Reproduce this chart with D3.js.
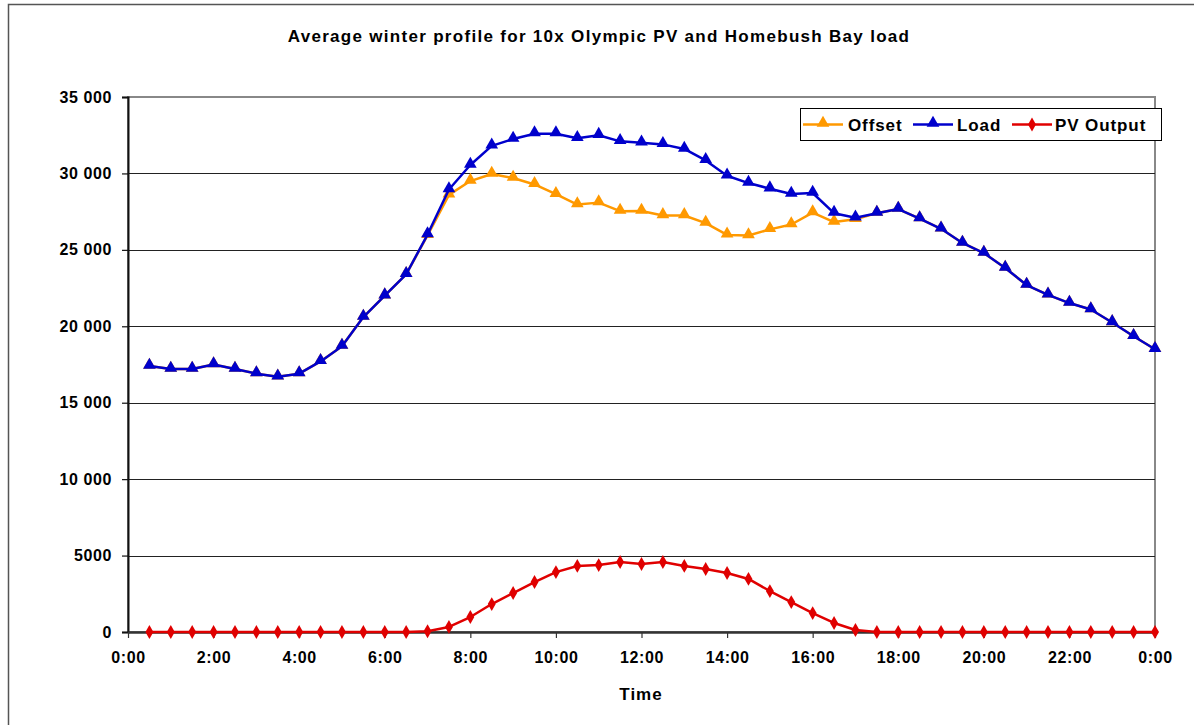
<!DOCTYPE html>
<html>
<head>
<meta charset="utf-8">
<script src="https://cdn.jsdelivr.net/npm/d3@7"></script>
<style>
  body { margin: 0; background: #fff; }
  svg { display: block; }
  text { font-family: "Liberation Sans", Arial, sans-serif; font-weight: bold; fill: #000; }
</style>
</head>
<body>
<svg id="chart" width="1194" height="725"></svg>
<script>
// Half-hourly averages, 0:30 through 24:00 (hours)
const hours = d3.range(1, 49).map(i => i * 0.5);

const loadValues = [
  17400, 17200, 17200, 17500, 17200, 16900, 16700, 16900,
  17700, 18700, 20600, 22000, 23400, 26000, 28950, 30550,
  31800, 32250, 32600, 32600, 32300, 32500, 32100, 32000,
  31900, 31600, 30850, 29850, 29370, 29000, 28650, 28720,
  27400, 27100, 27400, 27670, 27050, 26380, 25450, 24790,
  23810, 22700, 22050, 21520, 21100, 20250, 19350, 18500
];

const pvValues = [
  0, 0, 0, 0, 0, 0, 0, 0,
  0, 0, 0, 0, 0, 50, 330, 980,
  1830, 2550, 3270, 3920, 4320, 4380, 4580, 4450,
  4580, 4320, 4120, 3860, 3470, 2680, 1960, 1240,
  590, 130, 0, 0, 0, 0, 0, 0,
  0, 0, 0, 0, 0, 0, 0, 0
];

const offsetValues = [
  17400, 17200, 17200, 17500, 17200, 16900, 16700, 16900,
  17700, 18700, 20600, 22000, 23400, 25950, 28600, 29500,
  29960, 29700, 29280, 28640, 27960, 28090, 27530, 27540,
  27250, 27250, 26750, 25980, 25940, 26340, 26660, 27440,
  26820, 27000, 27400, 27670, 27050, 26380, 25450, 24790,
  23810, 22700, 22050, 21520, 21100, 20250, 19350, 18500
];

const yTickValues = [0, 5000, 10000, 15000, 20000, 25000, 30000, 35000];
const yTickLabels = ["0", "5000", "10 000", "15 000", "20 000", "25 000", "30 000", "35 000"];
const xTickValues = [0, 2, 4, 6, 8, 10, 12, 14, 16, 18, 20, 22, 24];
const xTickLabels = ["0:00", "2:00", "4:00", "6:00", "8:00", "10:00", "12:00", "14:00", "16:00", "18:00", "20:00", "22:00", "0:00"];

const seriesNames = ["Offset", "Load", "PV Output"];
const seriesColors = ["#FF9900", "#0000CC", "#E00000"];
const seriesMarkers = ["triangle", "triangle", "diamond"];

const svg = d3.select("#chart");
const plot = { left: 128, right: 1155, top: 97, bottom: 632 };

// Outer chart frame
svg.append("rect")
  .attr("x", 8.5).attr("y", 4.5)
  .attr("width", 1200).attr("height", 740)
  .attr("fill", "#fff")
  .attr("stroke", "#555").attr("stroke-width", 1.5);

const x = d3.scaleLinear().domain([0, 24]).range([plot.left, plot.right]);
const y = d3.scaleLinear().domain([0, 35000]).range([plot.bottom, plot.top]);

// Plot area border (top & right grey)
svg.append("rect")
  .attr("x", plot.left).attr("y", plot.top)
  .attr("width", plot.right - plot.left).attr("height", plot.bottom - plot.top)
  .attr("fill", "#fff")
  .attr("stroke", "#888").attr("stroke-width", 2);

// Horizontal gridlines
svg.append("g")
  .selectAll("line")
  .data(yTickValues.filter(v => v > 0 && v < 35000))
  .join("line")
  .attr("x1", plot.left).attr("x2", plot.right)
  .attr("y1", d => Math.round(y(d)) + 0.5).attr("y2", d => Math.round(y(d)) + 0.5)
  .attr("stroke", "#222").attr("stroke-width", 1.2);

const tickFont = sel => sel
  .style("font-size", "16px").style("font-family", "Liberation Sans, Arial, sans-serif")
  .style("font-weight", "bold").style("letter-spacing", "0.6px").attr("fill", "#000");

// Y axis
const yAxis = svg.append("g")
  .attr("transform", `translate(${plot.left},0)`)
  .call(d3.axisLeft(y)
    .tickValues(yTickValues)
    .tickFormat((d, i) => yTickLabels[i])
    .tickSize(6)
    .tickPadding(10));
yAxis.select(".domain").attr("stroke", "#111").attr("stroke-width", 2);
yAxis.selectAll(".tick line").attr("stroke", "#111").attr("stroke-width", 1.2);
yAxis.selectAll(".tick text").call(tickFont);

// X axis
const xAxis = svg.append("g")
  .attr("transform", `translate(0,${plot.bottom})`)
  .call(d3.axisBottom(x)
    .tickValues(xTickValues)
    .tickFormat((d, i) => xTickLabels[i])
    .tickSize(6)
    .tickSizeOuter(0)
    .tickPadding(14));
xAxis.select(".domain").attr("stroke", "#333").attr("stroke-width", 2.5);
xAxis.selectAll(".tick line").attr("stroke", "#333").attr("stroke-width", 1.2);
xAxis.selectAll(".tick text").call(tickFont);

// Title and axis title
svg.append("text")
  .attr("x", 599).attr("y", 42)
  .attr("text-anchor", "middle")
  .style("font-size", "17px")
  .style("letter-spacing", "1.3px")
  .text("Average winter profile for 10x Olympic PV and Homebush Bay load");

svg.append("text")
  .attr("x", 641).attr("y", 700)
  .attr("text-anchor", "middle")
  .style("font-size", "17px")
  .style("letter-spacing", "1px")
  .text("Time");

// Series lines with markers
const seriesData = [offsetValues, loadValues, pvValues];
const line = d3.line().x(d => x(d.h)).y(d => y(d.v));
const triangle = d3.symbol().type(d3.symbolTriangle).size(70);
const diamond = d3.symbol().type(d3.symbolDiamond).size(55);

seriesData.forEach((vals, si) => {
  const pts = hours.map((h, i) => ({ h, v: vals[i] }));
  const g = svg.append("g");
  g.append("path")
    .datum(pts)
    .attr("d", line)
    .attr("fill", "none")
    .attr("stroke", seriesColors[si])
    .attr("stroke-width", 2.5)
    .attr("stroke-linejoin", "round");
  g.selectAll("path.marker")
    .data(pts)
    .join("path")
    .attr("class", "marker")
    .attr("transform", d => `translate(${x(d.h)},${y(d.v) - (seriesMarkers[si] === "triangle" ? 1 : 0)})`)
    .attr("d", seriesMarkers[si] === "triangle" ? triangle : diamond)
    .attr("fill", seriesColors[si]);
});

// Legend
const legend = svg.append("g");
legend.append("rect")
  .attr("x", 800.5).attr("y", 108.5)
  .attr("width", 361).attr("height", 32)
  .attr("fill", "#fff").attr("stroke", "#000").attr("stroke-width", 1);

const legendItems = [
  { lx: 803, tx: 848 },
  { lx: 913, tx: 957 },
  { lx: 1012, tx: 1055 }
];
legendItems.forEach((it, i) => {
  legend.append("line")
    .attr("x1", it.lx).attr("x2", it.lx + 40)
    .attr("y1", 124.5).attr("y2", 124.5)
    .attr("stroke", seriesColors[i]).attr("stroke-width", 2.5);
  legend.append("path")
    .attr("transform", `translate(${it.lx + 20},${seriesMarkers[i] === "triangle" ? 123 : 124.5})`)
    .attr("d", seriesMarkers[i] === "triangle" ? triangle : diamond)
    .attr("fill", seriesColors[i]);
  legend.append("text")
    .attr("x", it.tx).attr("y", 131)
    .style("font-size", "17px")
    .style("letter-spacing", "0.9px")
    .text(seriesNames[i]);
});
</script>
</body>
</html>
